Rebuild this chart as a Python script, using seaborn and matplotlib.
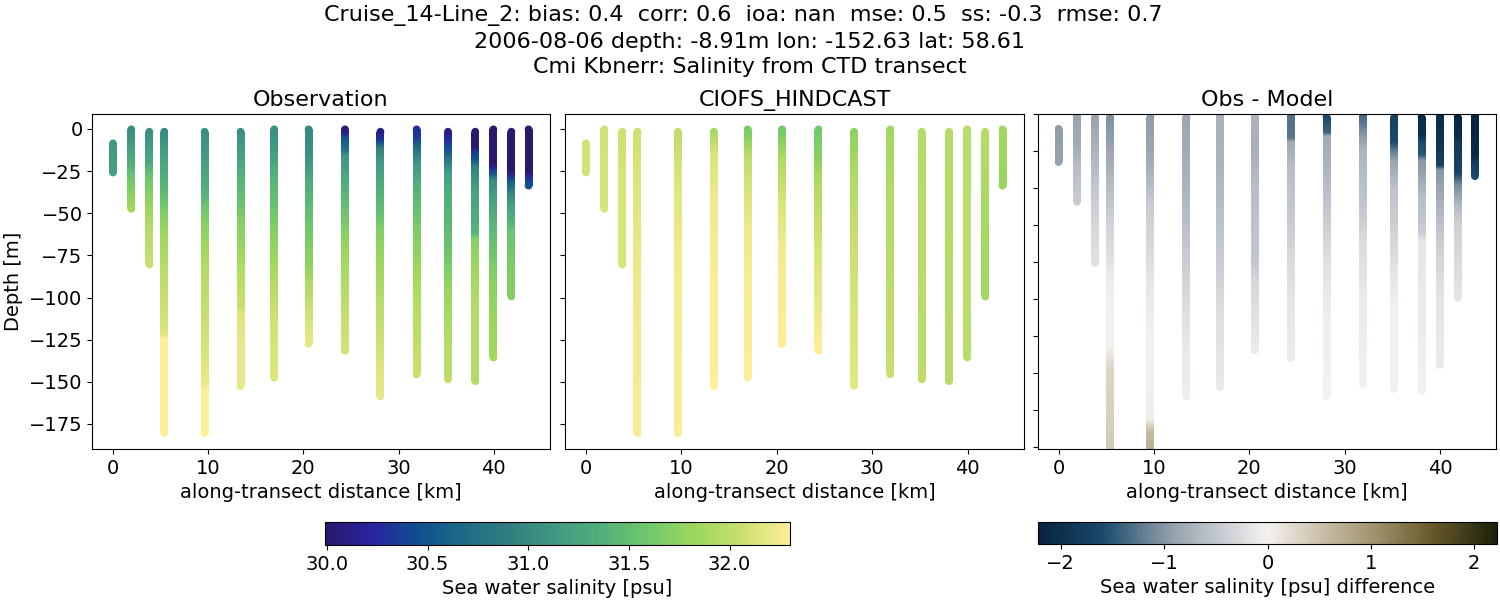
"""CTD transect comparison: observation, model and difference."""

import matplotlib.pyplot as plt
import numpy as np
import pandas as pd
import seaborn as sns
from matplotlib.cm import ScalarMappable
from matplotlib.colors import LinearSegmentedColormap, Normalize
from matplotlib.patches import Rectangle

distance = [0.0, 1.93, 3.82, 5.39, 9.63, 13.41, 16.94, 20.55,
            24.37, 28.1, 31.9, 35.2, 38.06, 39.96, 41.85, 43.66]

obs_depth = [
    [-8.5, -25.8],
    [-0.2, -5, -20, -30, -47.4],
    [-1.6, -10, -20, -30, -45, -60, -80.4],
    [-1.6, -10, -25, -40, -50, -65, -80, -100, -110, -122, -124, -180.5],
    [-1.6, -15, -25, -40, -45, -55, -70, -85, -100, -125, -150, -155, -180.5],
    [-1.6, -10, -25, -40, -55, -70, -85, -105, -110, -130, -152.6],
    [-0.2, -12, -30, -45, -60, -80, -100, -115, -147.6],
    [-0.2, -15, -30, -45, -60, -80, -90, -100, -110, -127.6],
    [-0.2, -3, -6, -12, -16, -30, -45, -60, -75, -95, -115, -131.6],
    [-1.6, -6, -8, -11, -20, -35, -50, -60, -75, -100, -130, -158.6],
    [-0.2, -5, -9, -14, -20, -30, -45, -65, -85, -105, -145.6],
    [-1.6, -6, -12, -18, -25, -35, -50, -70, -85, -105, -125, -148.6],
    [-1.6, -11, -13, -18, -22, -35, -50, -62, -65, -85, -110, -149.6],
    [-0.2, -20, -23, -27, -30, -40, -55, -70, -85, -110, -135.6],
    [-1.6, -25, -28, -32, -38, -45, -55, -60, -80, -99.4],
    [-0.2, -25, -28, -31, -33.6],
]
obs_salinity = [
    [31.15, 31.2],
    [31.05, 31.1, 31.35, 31.6, 31.85],
    [31.05, 31.15, 31.3, 31.6, 31.8, 31.95, 32.05],
    [31.0, 31.15, 31.3, 31.5, 31.7, 31.85, 31.95, 32.05, 32.1, 32.15, 32.3, 32.3],
    [31.05, 31.15, 31.25, 31.4, 31.55, 31.7, 31.85, 31.95, 32.0, 32.1, 32.2, 32.3, 32.3],
    [31.05, 31.15, 31.35, 31.5, 31.7, 31.8, 31.95, 32.05, 32.15, 32.2, 32.2],
    [31.05, 31.15, 31.4, 31.55, 31.7, 31.85, 32.0, 32.1, 32.15],
    [31.0, 31.05, 31.3, 31.45, 31.6, 31.75, 31.9, 32.0, 32.1, 32.2],
    [30.05, 30.25, 30.55, 30.7, 31.1, 31.3, 31.5, 31.7, 31.85, 31.95, 32.05, 32.1],
    [30.1, 30.3, 30.5, 30.9, 31.15, 31.35, 31.5, 31.7, 31.8, 31.95, 32.1, 32.2],
    [30.3, 30.35, 30.6, 30.85, 31.1, 31.3, 31.5, 31.7, 31.85, 31.95, 32.05],
    [30.05, 30.25, 30.5, 30.8, 31.15, 31.3, 31.4, 31.55, 31.7, 31.85, 31.95, 32.0],
    [30.0, 30.0, 30.3, 30.5, 30.9, 31.2, 31.3, 31.4, 31.7, 31.85, 31.95, 31.95],
    [30.0, 30.0, 30.25, 30.55, 31.0, 31.2, 31.4, 31.55, 31.7, 31.8, 31.85],
    [30.0, 30.0, 30.3, 30.6, 30.95, 31.2, 31.4, 31.55, 31.65, 31.7],
    [30.0, 30.0, 30.2, 30.4, 30.45],
]

model_depth = [
    [-8.5, -25.8],
    [-0.2, -47.4],
    [-1.6, -30, -80.4],
    [-1.6, -25, -70, -125, -180.5],
    [-1.6, -15, -40, -80, -180.5],
    [-1.6, -5, -15, -40, -90, -152.6],
    [-0.2, -6, -15, -30, -60, -100, -147.6],
    [-0.2, -8, -15, -30, -45, -65, -100, -127.6],
    [-0.2, -15, -25, -40, -60, -85, -110, -131.6],
    [-1.6, -15, -40, -70, -110, -152.4],
    [-0.2, -30, -60, -100, -145.6],
    [-1.6, -148.6],
    [-1.6, -149.6],
    [-0.2, -70, -135.6],
    [-1.6, -40, -99.4],
    [-0.2, -33.6],
]
model_salinity = [
    [32.1, 32.1],
    [32.1, 32.12],
    [32.07, 32.12, 32.12],
    [32.07, 32.13, 32.2, 32.25, 32.27],
    [32.0, 32.08, 32.17, 32.24, 32.28],
    [31.85, 31.97, 32.12, 32.22, 32.28, 32.3],
    [31.65, 31.75, 31.97, 32.1, 32.22, 32.28, 32.3],
    [31.6, 31.75, 31.87, 32.02, 32.12, 32.22, 32.27, 32.32],
    [31.6, 31.7, 31.85, 31.97, 32.07, 32.17, 32.22, 32.32],
    [31.75, 31.85, 31.97, 32.07, 32.12, 32.17],
    [31.85, 31.92, 31.95, 32.0, 32.05],
    [31.95, 32.0],
    [31.95, 31.97],
    [31.97, 32.0, 31.98],
    [31.97, 31.9, 31.85],
    [31.85, 31.8],
]

diff_depth = [
    [-8, -26],
    [-0.2, -15, -30, -47.4],
    [-1.6, -20, -40, -60, -80.4],
    [-1.6, -20, -40, -60, -80, -85, -110, -125, -130, -137, -181],
    [-1.6, -20, -40, -50, -70, -90, -120, -165, -168, -172, -181],
    [-1.6, -30, -50, -70, -90, -110, -130, -152.6],
    [-0.2, -30, -50, -70, -90, -110, -147.6],
    [-0.2, -20, -40, -80, -90, -127.6],
    [-0.2, -13, -15, -30, -60, -75, -100, -131.6],
    [-1.6, -10, -12, -30, -50, -80, -110, -152.4],
    [-0.2, -6, -12, -20, -50, -70, -100, -146],
    [-1.6, -15, -20, -25, -40, -60, -80, -105, -148.6],
    [-1.6, -12, -15, -22, -25, -45, -64, -68, -100, -149.6],
    [-0.2, -20, -28, -30, -50, -70, -100, -135.6],
    [-1.6, -12, -14, -32, -38, -48, -58, -99.4],
    [-0.2, -22, -26, -33.6],
]
diff_values = [
    [-0.95, -0.9],
    [-0.9, -0.8, -0.6, -0.45],
    [-0.9, -0.7, -0.5, -0.3, -0.2],
    [-1.05, -0.85, -0.6, -0.35, -0.2, -0.08, 0.0, 0.0, 0.1, 0.3, 0.4],
    [-0.95, -0.85, -0.6, -0.45, -0.3, -0.15, 0.0, 0.05, 0.3, 0.6, 0.7],
    [-0.85, -0.75, -0.65, -0.5, -0.35, -0.2, -0.1, -0.05],
    [-0.75, -0.7, -0.6, -0.5, -0.35, -0.22, -0.1],
    [-0.7, -0.75, -0.6, -0.5, -0.3, -0.1],
    [-1.3, -1.25, -0.8, -0.6, -0.45, -0.3, -0.15, -0.1],
    [-1.6, -1.4, -0.8, -0.7, -0.5, -0.2, -0.05, 0.0],
    [-1.4, -1.2, -0.95, -0.7, -0.5, -0.25, -0.1, 0.0],
    [-1.7, -1.6, -1.2, -0.9, -0.55, -0.4, -0.2, 0.0, 0.0],
    [-2.1, -2.0, -1.6, -1.5, -1.0, -0.6, -0.45, -0.15, -0.1, 0.0],
    [-2.1, -1.9, -1.7, -1.0, -0.7, -0.4, -0.15, -0.1],
    [-2.2, -2.1, -1.9, -1.7, -1.1, -0.7, -0.4, -0.15],
    [-2.2, -2.15, -1.8, -1.6],
]

depth_ticks = [0, -25, -50, -75, -100, -125, -150, -175]
diff_depth_ticks = [0, -20, -40, -60, -80, -100, -120, -140, -160, -180]
distance_ticks = [0, 10, 20, 30, 40]
salinity_ticks = [30.0, 30.5, 31.0, 31.5, 32.0]
diff_ticks = [-2, -1, 0, 1, 2]

SUPTITLE = (
    "Cruise_14-Line_2: bias: 0.4  corr: 0.6  ioa: nan  mse: 0.5  ss: -0.3  rmse: 0.7  \n"
    "2006-08-06 depth: -8.91m lon: -152.63 lat: 58.61\n"
    "Cmi Kbnerr: Salinity from CTD transect"
)
W, H = 1500, 600

sns.set_theme(style="ticks", rc={
    "axes.edgecolor": "black", "axes.linewidth": 0.8,
    "axes.labelcolor": "black", "text.color": "black",
    "xtick.color": "black", "ytick.color": "black",
    "xtick.major.size": 3.5, "ytick.major.size": 3.5,
    "xtick.major.width": 0.8, "ytick.major.width": 0.8,
    "xtick.labelsize": 14, "ytick.labelsize": 14,
    "axes.labelsize": 14, "axes.titlesize": 16,
})
plt.rcParams["font.family"] = ["DejaVu Sans"]

# cmocean is not available here, so colours are picked off the colorbars
haline = LinearSegmentedColormap.from_list("haline_like", [
    "#2a186c", "#29249e", "#0f4f8f", "#1d6d86", "#337f80", "#419a83",
    "#52b17b", "#72c96c", "#9ed75b", "#cbe070", "#fdee99",
])
diff = LinearSegmentedColormap.from_list("diff_like", [
    (0.0, "#08233f"), (0.14, "#1a4a6c"), (0.24, "#6d8496"), (0.3, "#98a4af"),
    (0.39, "#c3c8cf"), (0.5, "#f5f1ef"), (0.62, "#c9bfa9"), (0.73, "#a1946f"),
    (0.86, "#69592c"), (1.0, "#1b2109"),
])
sal_norm = Normalize(29.99, 32.30)
diff_norm = Normalize(-2.22, 2.22)


def px_axes(fig, left, top, right, bottom):
    return fig.add_axes([left / W, 1 - bottom / H, (right - left) / W, (bottom - top) / H])


def draw_casts(ax, depths, values, cmap, norm):
    # only the first and last reading get a marker: they make the round caps
    rows = [
        {"distance": x, "depth": d, "value": v}
        for x, ds, vs in zip(distance, depths, values)
        for d, v in ((ds[0], vs[0]), (ds[-1], vs[-1]))
    ]
    sns.scatterplot(data=pd.DataFrame(rows), x="distance", y="depth", hue="value",
                    palette=cmap, hue_norm=norm, s=31, linewidth=0,
                    legend=False, ax=ax, zorder=1)
    half = 0.42
    for x, ds, vs in zip(distance, depths, values):
        mesh = ax.pcolormesh([x - 2 * half, x + 2 * half], ds, np.column_stack([vs, vs]),
                             shading="gouraud", cmap=cmap, norm=norm, zorder=2)
        # gouraud triangles get lumpy edges in Agg, so cut the strip to a clean width
        mesh.set_clip_path(Rectangle((x - half, ds[-1]), 2 * half, ds[0] - ds[-1],
                                     transform=ax.transData))
    ax.set_xlim(-2.16, 45.87)
    ax.set_xticks(distance_ticks)
    ax.set_xlabel("along-transect distance [km]")
    ax.set_ylabel("")


def main():
    fig = plt.figure(figsize=(15, 6), dpi=100)
    ax_obs = px_axes(fig, 92.4, 114, 549.6, 449)
    ax_model = px_axes(fig, 565.4, 114, 1023.6, 449)
    ax_diff = px_axes(fig, 1038, 114, 1496, 449)

    draw_casts(ax_obs, obs_depth, obs_salinity, haline, sal_norm)
    draw_casts(ax_model, model_depth, model_salinity, haline, sal_norm)
    draw_casts(ax_diff, diff_depth, diff_values, diff, diff_norm)

    for ax in (ax_obs, ax_model):
        ax.set_ylim(-189.9, 8.9)
        ax.set_yticks(depth_ticks)
    ax_model.tick_params(labelleft=False)
    ax_diff.set_ylim(-181, 0)
    ax_diff.set_yticks(diff_depth_ticks)
    ax_diff.tick_params(labelleft=False)

    ax_obs.set_ylabel("Depth [m]")
    ax_obs.set_title("Observation")
    ax_model.set_title("CIOFS_HINDCAST")
    ax_diff.set_title("Obs - Model")

    cax = px_axes(fig, 325, 522, 790, 545)
    cb = fig.colorbar(ScalarMappable(sal_norm, haline), cax=cax, orientation="horizontal")
    cb.set_ticks(salinity_ticks)
    cb.set_label("Sea water salinity [psu]")

    cax2 = px_axes(fig, 1038, 522, 1497, 544)
    cb2 = fig.colorbar(ScalarMappable(diff_norm, diff), cax=cax2, orientation="horizontal")
    cb2.set_ticks(diff_ticks)
    cb2.set_label("Sea water salinity [psu] difference")

    fig.suptitle(SUPTITLE, fontsize=16, x=0.5, y=0.991, va="top", linespacing=1.33)
    fig.savefig("out.png", dpi=100)
    plt.close(fig)


if __name__ == "__main__":
    main()
